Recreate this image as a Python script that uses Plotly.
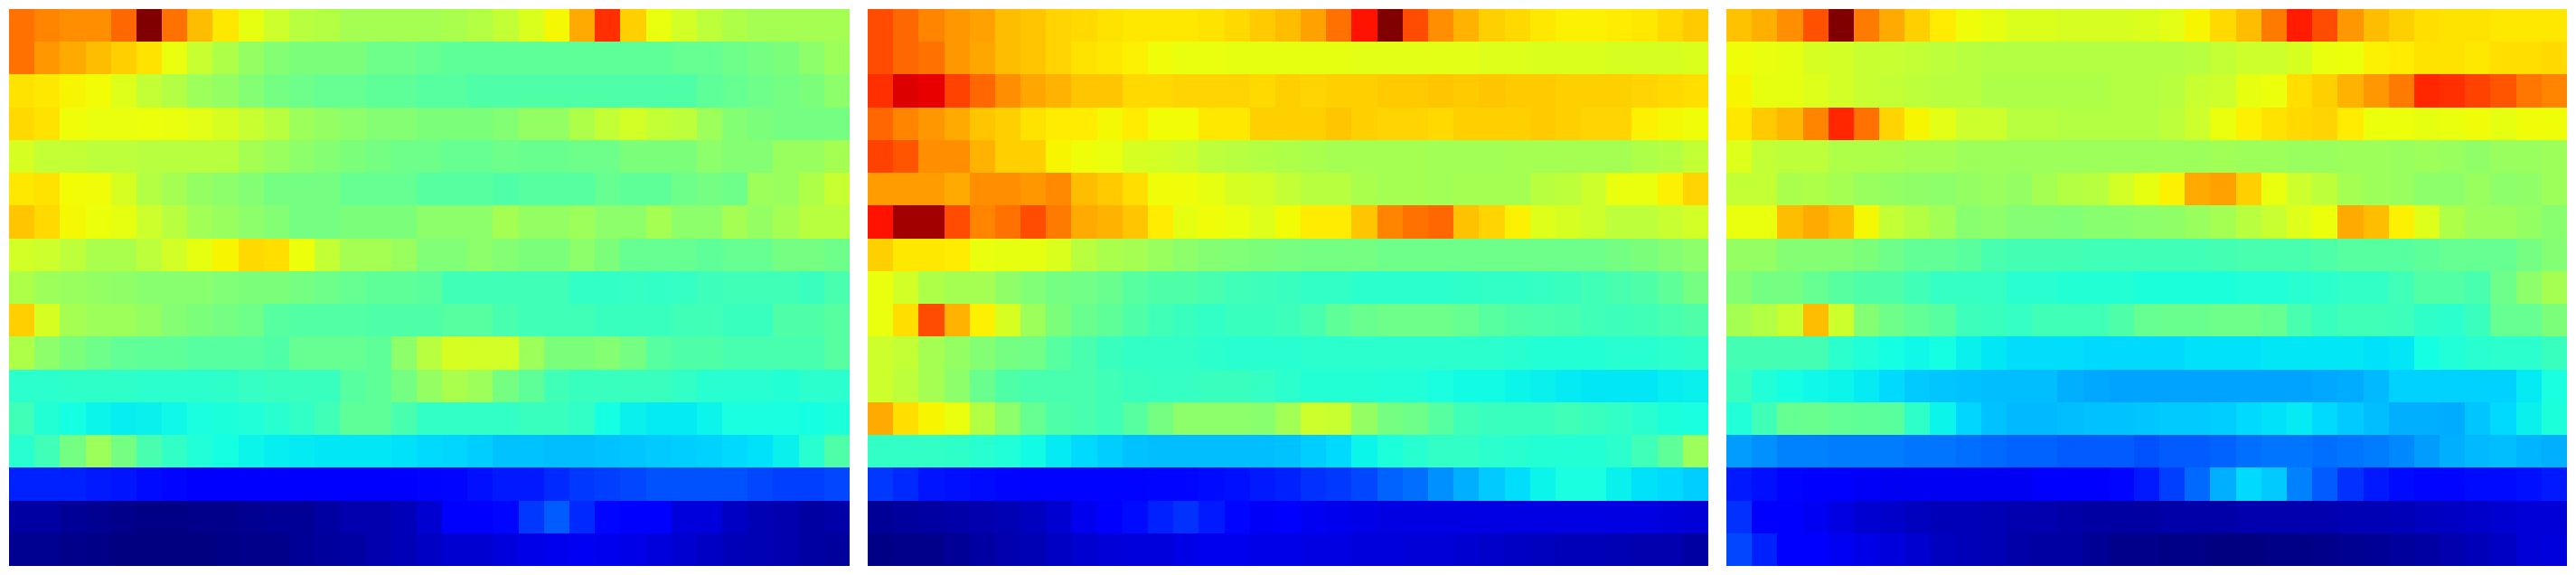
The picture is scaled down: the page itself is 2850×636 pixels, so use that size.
import numpy as np
import plotly.graph_objects as go
from plotly.subplots import make_subplots

panel_a = [
[.79,.77,.76,.76,.80,1.0,.79,.71,.665,.62,.59,.57,.565,.55,.55,.55,.55,.555,.565,.58,.605,.645,.73,.86,.69,.625,.595,.575,.56,.55,.55,.55,.55],
[.79,.75,.73,.71,.69,.67,.625,.585,.56,.53,.51,.50,.50,.50,.48,.48,.47,.46,.46,.46,.46,.46,.46,.46,.46,.46,.47,.47,.48,.49,.50,.52,.54],
[.67,.665,.65,.64,.61,.58,.565,.54,.53,.51,.49,.48,.47,.47,.46,.46,.45,.45,.44,.44,.44,.44,.44,.44,.44,.44,.44,.46,.47,.48,.49,.50,.52],
[.68,.67,.635,.625,.625,.63,.625,.615,.60,.585,.57,.54,.53,.52,.51,.51,.50,.50,.50,.51,.53,.53,.56,.58,.595,.58,.575,.54,.51,.50,.49,.49,.49],
[.60,.58,.58,.575,.575,.57,.57,.57,.57,.55,.535,.52,.51,.50,.49,.48,.48,.47,.47,.48,.475,.475,.48,.48,.50,.50,.50,.52,.51,.51,.535,.535,.55],
[.665,.67,.64,.635,.60,.565,.55,.53,.52,.51,.49,.49,.49,.47,.47,.47,.45,.45,.45,.44,.45,.45,.45,.47,.46,.46,.48,.49,.48,.54,.535,.56,.585],
[.70,.68,.645,.63,.62,.59,.57,.545,.535,.52,.51,.49,.49,.50,.50,.50,.52,.52,.52,.55,.53,.53,.54,.52,.52,.55,.52,.52,.55,.53,.55,.57,.57],
[.595,.59,.575,.555,.555,.575,.595,.62,.65,.68,.675,.63,.58,.55,.55,.535,.505,.505,.52,.51,.50,.50,.52,.50,.47,.47,.47,.46,.47,.47,.49,.49,.48],
[.56,.54,.535,.53,.525,.515,.515,.515,.505,.50,.50,.49,.48,.47,.46,.46,.455,.42,.42,.42,.42,.42,.40,.40,.405,.40,.405,.415,.42,.42,.42,.41,.43],
[.69,.60,.55,.54,.54,.53,.51,.50,.49,.48,.45,.445,.445,.445,.44,.44,.44,.45,.45,.43,.42,.42,.42,.41,.41,.41,.42,.42,.41,.41,.44,.44,.45],
[.56,.52,.50,.48,.465,.46,.46,.45,.45,.45,.44,.47,.47,.47,.46,.52,.57,.60,.595,.595,.54,.50,.50,.51,.49,.45,.44,.44,.43,.43,.43,.43,.45],
[.39,.39,.395,.395,.395,.39,.39,.39,.395,.405,.41,.41,.41,.45,.46,.49,.53,.555,.54,.49,.46,.42,.41,.41,.41,.41,.40,.385,.385,.385,.38,.39,.39],
[.42,.38,.36,.345,.335,.34,.35,.365,.37,.375,.385,.40,.42,.46,.46,.43,.40,.40,.40,.40,.41,.41,.40,.36,.34,.33,.33,.345,.365,.365,.365,.36,.37],
[.385,.42,.49,.54,.49,.43,.40,.375,.36,.345,.335,.33,.325,.325,.325,.32,.31,.305,.295,.28,.28,.275,.275,.28,.285,.29,.295,.30,.31,.32,.34,.385,.44],
[.155,.155,.155,.15,.145,.135,.13,.12,.115,.11,.11,.11,.11,.11,.11,.12,.125,.13,.14,.15,.15,.16,.17,.175,.18,.185,.185,.185,.185,.18,.175,.175,.18],
[.03,.03,.02,.015,.01,.005,.005,.01,.01,.015,.02,.02,.03,.04,.04,.05,.07,.11,.11,.13,.17,.19,.16,.13,.11,.11,.08,.08,.06,.045,.04,.03,.035],
[.015,.015,.01,.005,0,0,0,0,.005,.01,.01,.02,.025,.03,.04,.05,.06,.07,.07,.08,.09,.095,.10,.095,.09,.08,.07,.06,.05,.045,.04,.03,.025],
]

panel_b = [
[.83,.80,.77,.75,.74,.71,.70,.685,.68,.67,.665,.665,.665,.67,.68,.695,.71,.74,.79,.89,1.0,.83,.76,.72,.69,.68,.665,.655,.655,.66,.665,.68,.695],
[.83,.80,.79,.75,.735,.71,.70,.685,.67,.665,.655,.635,.625,.625,.62,.62,.62,.62,.62,.615,.615,.615,.615,.615,.61,.61,.605,.605,.605,.60,.60,.60,.605],
[.86,.92,.91,.84,.80,.76,.735,.72,.70,.70,.68,.68,.685,.685,.685,.68,.69,.685,.69,.69,.695,.695,.70,.695,.70,.695,.695,.69,.69,.69,.685,.68,.675],
[.80,.77,.75,.73,.70,.69,.67,.66,.66,.645,.66,.64,.64,.665,.665,.69,.69,.69,.70,.69,.685,.685,.68,.69,.69,.69,.695,.69,.685,.685,.655,.645,.635],
[.84,.82,.76,.76,.72,.69,.69,.65,.635,.625,.60,.595,.59,.575,.57,.565,.56,.555,.55,.55,.55,.55,.545,.545,.545,.55,.55,.55,.55,.55,.56,.565,.58],
[.745,.745,.745,.73,.76,.76,.75,.765,.71,.695,.675,.635,.635,.62,.60,.595,.58,.57,.57,.555,.55,.55,.545,.55,.55,.55,.57,.575,.59,.625,.625,.655,.685],
[.89,.97,.97,.83,.77,.79,.83,.78,.73,.72,.70,.66,.62,.635,.625,.61,.64,.66,.66,.70,.77,.79,.80,.705,.685,.655,.61,.60,.59,.575,.575,.585,.595],
[.69,.665,.665,.66,.625,.62,.62,.605,.57,.555,.55,.535,.52,.51,.505,.50,.495,.49,.49,.49,.48,.48,.48,.48,.48,.48,.48,.48,.48,.49,.50,.51,.52],
[.625,.595,.56,.55,.55,.525,.505,.49,.485,.475,.45,.44,.44,.43,.42,.415,.41,.40,.40,.39,.39,.39,.39,.395,.40,.40,.405,.41,.42,.43,.44,.46,.49],
[.625,.675,.83,.72,.655,.60,.54,.50,.475,.46,.44,.42,.41,.40,.41,.41,.415,.43,.46,.475,.48,.48,.48,.47,.45,.44,.435,.43,.42,.415,.42,.43,.44],
[.59,.58,.55,.53,.51,.49,.485,.45,.43,.41,.40,.40,.40,.39,.385,.385,.385,.39,.39,.39,.39,.39,.39,.39,.39,.385,.38,.38,.38,.385,.385,.39,.395],
[.59,.575,.55,.52,.475,.44,.43,.43,.43,.42,.41,.405,.405,.41,.41,.405,.39,.38,.38,.38,.375,.375,.365,.355,.355,.345,.34,.33,.325,.325,.325,.335,.34],
[.73,.675,.65,.625,.565,.52,.47,.44,.43,.42,.45,.49,.52,.52,.52,.515,.545,.59,.585,.53,.49,.48,.45,.42,.41,.41,.41,.42,.41,.40,.385,.37,.365],
[.40,.40,.40,.395,.385,.375,.355,.33,.31,.295,.28,.275,.275,.275,.275,.275,.28,.295,.31,.345,.37,.385,.40,.40,.39,.385,.38,.38,.38,.39,.42,.46,.54],
[.17,.16,.145,.14,.135,.13,.125,.125,.125,.125,.125,.13,.13,.135,.14,.15,.155,.165,.17,.18,.195,.205,.23,.26,.29,.315,.345,.365,.365,.34,.32,.31,.295],
[.02,.025,.03,.035,.04,.045,.055,.07,.095,.11,.135,.155,.165,.15,.13,.105,.11,.10,.095,.09,.085,.085,.085,.085,.085,.085,.085,.085,.085,.085,.085,.08,.075],
[.005,.01,.01,.02,.03,.04,.045,.06,.07,.075,.08,.08,.09,.095,.095,.09,.09,.085,.085,.08,.08,.075,.075,.07,.065,.06,.055,.05,.05,.045,.04,.04,.03],
]

panel_c = [
[.705,.725,.76,.825,1.0,.78,.73,.69,.66,.635,.62,.605,.605,.60,.60,.60,.605,.615,.65,.68,.71,.78,.88,.83,.75,.71,.69,.675,.67,.67,.665,.665,.665],
[.635,.625,.62,.60,.595,.585,.585,.58,.575,.57,.565,.565,.565,.565,.565,.565,.565,.565,.57,.58,.59,.59,.60,.625,.63,.655,.66,.67,.67,.665,.675,.675,.68],
[.65,.62,.62,.61,.595,.585,.58,.575,.57,.57,.56,.56,.56,.56,.56,.565,.565,.57,.585,.59,.62,.63,.675,.69,.72,.75,.78,.87,.86,.84,.82,.785,.77],
[.665,.695,.715,.77,.87,.79,.685,.65,.615,.59,.59,.57,.57,.565,.565,.565,.565,.575,.59,.625,.655,.67,.68,.685,.66,.63,.63,.62,.625,.635,.62,.635,.635],
[.61,.58,.575,.575,.56,.56,.555,.55,.55,.54,.54,.54,.54,.54,.54,.54,.54,.54,.54,.545,.54,.54,.535,.535,.54,.54,.535,.54,.535,.525,.535,.535,.54],
[.58,.58,.555,.56,.55,.535,.53,.525,.52,.53,.535,.53,.55,.565,.57,.595,.62,.655,.73,.74,.69,.625,.59,.575,.55,.54,.535,.52,.52,.535,.52,.525,.54],
[.625,.625,.71,.73,.71,.645,.58,.565,.545,.515,.52,.51,.51,.505,.515,.515,.52,.525,.535,.55,.57,.585,.61,.63,.73,.71,.655,.61,.56,.54,.54,.53,.515],
[.53,.53,.51,.51,.51,.50,.48,.465,.465,.455,.43,.425,.425,.425,.42,.42,.42,.42,.42,.425,.43,.43,.43,.44,.45,.45,.45,.46,.47,.47,.47,.49,.51],
[.51,.49,.49,.47,.45,.44,.44,.42,.405,.405,.405,.385,.385,.38,.38,.38,.37,.37,.37,.37,.375,.375,.385,.39,.40,.40,.42,.445,.445,.43,.48,.52,.55],
[.55,.565,.585,.71,.59,.51,.48,.465,.45,.415,.41,.405,.42,.42,.42,.44,.47,.475,.475,.48,.48,.47,.43,.41,.42,.42,.415,.395,.39,.41,.47,.47,.50],
[.425,.425,.425,.425,.39,.375,.36,.35,.36,.34,.325,.315,.315,.315,.31,.31,.31,.31,.32,.32,.32,.325,.325,.325,.325,.32,.325,.36,.375,.385,.39,.39,.41],
[.41,.375,.36,.35,.345,.33,.31,.29,.285,.28,.275,.275,.275,.26,.25,.245,.245,.245,.245,.245,.245,.245,.245,.25,.255,.27,.30,.30,.30,.30,.30,.33,.365],
[.375,.42,.47,.475,.465,.46,.455,.395,.345,.305,.28,.27,.27,.275,.28,.28,.285,.29,.29,.295,.31,.32,.33,.31,.29,.275,.26,.26,.255,.285,.31,.34,.37],
[.24,.23,.22,.22,.215,.215,.215,.21,.21,.205,.20,.195,.195,.19,.19,.19,.185,.19,.19,.195,.205,.21,.21,.205,.21,.215,.225,.24,.26,.27,.275,.265,.26],
[.15,.14,.125,.12,.11,.105,.10,.10,.10,.10,.10,.10,.11,.11,.12,.13,.15,.175,.20,.26,.31,.29,.22,.19,.165,.15,.135,.13,.13,.135,.135,.14,.15],
[.165,.12,.115,.10,.085,.07,.065,.055,.05,.05,.045,.04,.04,.035,.03,.03,.03,.035,.035,.035,.04,.04,.04,.04,.045,.045,.05,.055,.06,.065,.07,.075,.075],
[.18,.155,.115,.115,.10,.09,.08,.07,.055,.05,.045,.035,.03,.03,.02,.01,.01,.005,.005,0,0,.005,.005,.01,.015,.02,.025,.03,.04,.05,.06,.075,.08],
]

# Shared colour scale: jet, with a small tone curve on the estimated values
tone_in =  [0, .11, .15, .18, .19, .21, .245, .28, .33, .36, .40, .45, .50, .55, .60, .62, .65, .89, 1.0]
tone_out = [0, .11, .15, .195, .215, .24, .285, .315, .355, .375, .41, .455, .50, .55, .61, .63, .65, .89, 1.0]
jet_r = ([0, .35, .66, .89, 1], [0, 0, 1, 1, .5])
jet_g = ([0, .125, .375, .64, .91, 1], [0, 0, 1, 1, 0, 0])
jet_b = ([0, .11, .34, .65, 1], [.5, 1, 1, 0, 0])


def jet_colour(v):
    return "rgb(%d,%d,%d)" % tuple(round(255 * float(np.interp(v, *c))) for c in (jet_r, jet_g, jet_b))


positions = sorted(set(np.round(np.linspace(0, 1, 101), 4)) | set(tone_in))
colorscale = [[float(v), jet_colour(np.interp(v, tone_in, tone_out))] for v in positions]

W, H = 2850, 636
fig = make_subplots(rows=1, cols=3)
lefts = [10, 960, 1910]
for i, (p, left) in enumerate(zip((panel_a, panel_b, panel_c), lefts), start=1):
    fig.add_trace(go.Heatmap(z=p, coloraxis="coloraxis", hoverinfo="skip"), row=1, col=i)
    ax = dict(visible=False, showgrid=False, zeroline=False, showticklabels=False, ticks="")
    fig.update_xaxes(domain=[left / W, (left + 930) / W], range=[-0.5, 32.5], **ax, row=1, col=i)
    fig.update_yaxes(domain=[1 - 626 / H, 1 - 10 / H], range=[16.5, -0.5], **ax, row=1, col=i)

fig.update_layout(
    width=W, height=H, margin=dict(l=0, r=0, t=0, b=0),
    paper_bgcolor="white", plot_bgcolor="white", showlegend=False,
    coloraxis=dict(colorscale=colorscale, cmin=0, cmax=1, showscale=False),
)
fig.write_html("out.html", config={"displayModeBar": False},
               post_script="document.body.style.margin='0';document.body.style.overflow='hidden';")
